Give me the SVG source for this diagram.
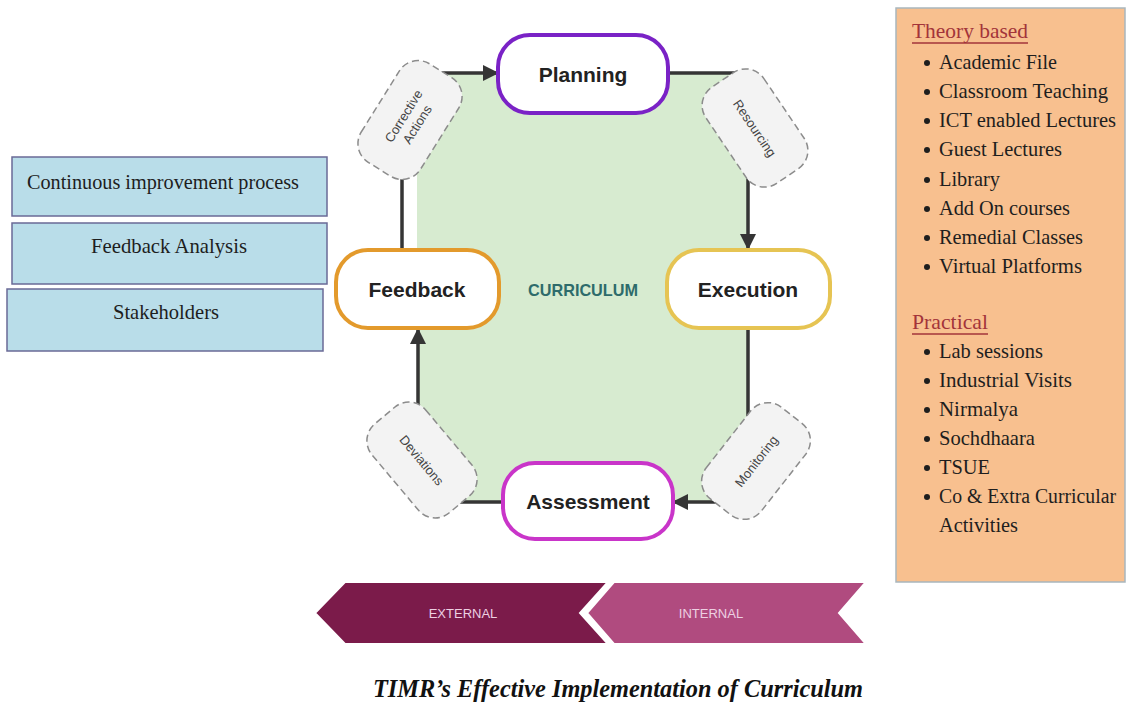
<svg xmlns="http://www.w3.org/2000/svg" width="1126" height="704" viewBox="0 0 1126 704">
  <defs>
    <marker id="arrow" viewBox="0 0 16 16" refX="15" refY="8" markerWidth="16" markerHeight="16" markerUnits="userSpaceOnUse" orient="auto">
      <path d="M0,0 L16,8 L0,16 z" fill="#353535"/>
    </marker>
    <style>
      .step { fill: #ffffff; stroke-width: 4; }
      .step-text { font-family: "Liberation Sans", Arial, sans-serif; font-weight: bold; font-size: 21px; fill: #222222; text-anchor: middle; }
      .tag { fill: #f3f3f3; stroke: #8c8c8c; stroke-width: 1.5; stroke-dasharray: 7 4; }
      .tag-text { font-family: "Liberation Sans", Arial, sans-serif; font-size: 13px; fill: #444444; text-anchor: middle; }
      .link { fill: none; stroke: #353535; stroke-width: 3.5; }
      .side-box { fill: #b9dde9; stroke: #6a6a96; stroke-width: 1.5; }
      .serif { font-family: "Liberation Serif", "Times New Roman", serif; font-size: 22px; fill: #1e1e1e; }
      .serif.long { font-size: 20px; }
      .head { font-family: "Liberation Serif", "Times New Roman", serif; font-size: 22px; fill: #a3343a; }
      .band-text { font-family: "Liberation Sans", Arial, sans-serif; font-size: 13px; fill: #edd0e2; text-anchor: middle; }
    </style>
  </defs>

  <rect width="1126" height="704" fill="#ffffff"/>

  <!-- curriculum field -->
  <g id="curriculum">
    <rect x="417" y="73" width="331" height="429" fill="#d7ebd0"/>
    <text x="583" y="296" font-family="'Liberation Sans', Arial, sans-serif" font-weight="bold" font-size="17" fill="#2e6b6b" text-anchor="middle" textLength="110" lengthAdjust="spacingAndGlyphs">CURRICULUM</text>
  </g>

  <!-- connectors of the cycle -->
  <g id="connectors">
    <line class="link" x1="440" y1="73" x2="498" y2="73" marker-end="url(#arrow)"/>
    <line class="link" x1="668" y1="73" x2="735" y2="73"/>
    <line class="link" x1="748" y1="170" x2="748" y2="249" marker-end="url(#arrow)"/>
    <line class="link" x1="748" y1="329" x2="748" y2="425"/>
    <line class="link" x1="725" y1="502" x2="673" y2="502" marker-end="url(#arrow)"/>
    <line class="link" x1="503" y1="502" x2="455" y2="502"/>
    <line class="link" x1="418" y1="410" x2="418" y2="329" marker-end="url(#arrow)"/>
    <line class="link" x1="402" y1="249" x2="402" y2="170"/>
  </g>

  <!-- dashed labels on the connectors -->
  <g id="tag-corrective" transform="translate(410,120) rotate(-58)">
    <rect class="tag" x="-58" y="-35" width="116" height="70" rx="22"/>
    <text class="tag-text" x="0" y="-3">Corrective</text>
    <text class="tag-text" x="0" y="13">Actions</text>
  </g>
  <g id="tag-resourcing" transform="translate(755,128) rotate(56)">
    <rect class="tag" x="-58" y="-35" width="116" height="70" rx="22"/>
    <text class="tag-text" x="0" y="5">Resourcing</text>
  </g>
  <g id="tag-monitoring" transform="translate(756,461) rotate(-52)">
    <rect class="tag" x="-58" y="-35" width="116" height="70" rx="22"/>
    <text class="tag-text" x="0" y="5">Monitoring</text>
  </g>
  <g id="tag-deviations" transform="translate(422,460) rotate(50)">
    <rect class="tag" x="-58" y="-35" width="116" height="70" rx="22"/>
    <text class="tag-text" x="0" y="5">Deviations</text>
  </g>

  <!-- cycle steps -->
  <g id="planning">
    <rect class="step" x="498" y="35" width="170" height="78" rx="32" stroke="#7a22c6"/>
    <text class="step-text" x="583" y="82">Planning</text>
  </g>
  <g id="execution">
    <rect class="step" x="667" y="250" width="163" height="78" rx="32" stroke="#e6c453"/>
    <text class="step-text" x="748" y="297">Execution</text>
  </g>
  <g id="assessment">
    <rect class="step" x="503" y="463" width="170" height="76" rx="32" stroke="#c935c9"/>
    <text class="step-text" x="588" y="509">Assessment</text>
  </g>
  <g id="feedback">
    <rect class="step" x="336" y="250" width="163" height="78" rx="32" stroke="#e39a2c"/>
    <text class="step-text" x="417" y="297">Feedback</text>
  </g>

  <!-- left stack -->
  <g id="continuous-improvement">
    <rect class="side-box" x="12" y="157" width="315" height="59"/>
    <text class="serif" x="27" y="189" textLength="272" lengthAdjust="spacingAndGlyphs">Continuous improvement process</text>
  </g>
  <g id="feedback-analysis">
    <rect class="side-box" x="12" y="223" width="315" height="61"/>
    <text class="serif" x="91" y="253" textLength="156" lengthAdjust="spacingAndGlyphs">Feedback Analysis</text>
  </g>
  <g id="stakeholders">
    <rect class="side-box" x="7" y="289" width="316" height="62"/>
    <text class="serif" x="113" y="319" textLength="106" lengthAdjust="spacingAndGlyphs">Stakeholders</text>
  </g>

  <!-- activities panel -->
  <g id="activities">
    <rect x="896" y="8" width="229" height="574" fill="#f8c08f" stroke="#a9b6bd" stroke-width="1.5"/>
    <text class="head" x="912" y="38" textLength="116" lengthAdjust="spacingAndGlyphs">Theory based</text>
    <line x1="912" y1="43" x2="1028" y2="43" stroke="#a3343a" stroke-width="1.5"/>
    <g fill="#1e1e1e">
      <circle cx="927" cy="63" r="3"/>
      <circle cx="927" cy="92" r="3"/>
      <circle cx="927" cy="121" r="3"/>
      <circle cx="927" cy="150" r="3"/>
      <circle cx="927" cy="180" r="3"/>
      <circle cx="927" cy="209" r="3"/>
      <circle cx="927" cy="238" r="3"/>
      <circle cx="927" cy="267" r="3"/>
      <circle cx="927" cy="352" r="3"/>
      <circle cx="927" cy="381" r="3"/>
      <circle cx="927" cy="410" r="3"/>
      <circle cx="927" cy="439" r="3"/>
      <circle cx="927" cy="468" r="3"/>
      <circle cx="927" cy="497" r="3"/>
    </g>
    <text class="serif" x="939" y="69" textLength="118" lengthAdjust="spacingAndGlyphs">Academic File</text>
    <text class="serif" x="939" y="98" textLength="169" lengthAdjust="spacingAndGlyphs">Classroom Teaching</text>
    <text class="serif long" x="939" y="127" textLength="177" lengthAdjust="spacingAndGlyphs">ICT enabled Lectures</text>
    <text class="serif" x="939" y="156" textLength="123" lengthAdjust="spacingAndGlyphs">Guest Lectures</text>
    <text class="serif" x="939" y="186" textLength="61" lengthAdjust="spacingAndGlyphs">Library</text>
    <text class="serif" x="939" y="215" textLength="131" lengthAdjust="spacingAndGlyphs">Add On courses</text>
    <text class="serif" x="939" y="244" textLength="144" lengthAdjust="spacingAndGlyphs">Remedial Classes</text>
    <text class="serif" x="939" y="273" textLength="143" lengthAdjust="spacingAndGlyphs">Virtual Platforms</text>

    <text class="head" x="912" y="329" textLength="76" lengthAdjust="spacingAndGlyphs">Practical</text>
    <line x1="912" y1="334" x2="988" y2="334" stroke="#a3343a" stroke-width="1.5"/>
    <text class="serif" x="939" y="358" textLength="104" lengthAdjust="spacingAndGlyphs">Lab sessions</text>
    <text class="serif" x="939" y="387" textLength="133" lengthAdjust="spacingAndGlyphs">Industrial Visits</text>
    <text class="serif" x="939" y="416" textLength="79" lengthAdjust="spacingAndGlyphs">Nirmalya</text>
    <text class="serif" x="939" y="445" textLength="96" lengthAdjust="spacingAndGlyphs">Sochdhaara</text>
    <text class="serif" x="939" y="474" textLength="51" lengthAdjust="spacingAndGlyphs">TSUE</text>
    <text class="serif long" x="939" y="503" textLength="177" lengthAdjust="spacingAndGlyphs">Co &amp; Extra Curricular</text>
    <text class="serif" x="939" y="532" textLength="79" lengthAdjust="spacingAndGlyphs">Activities</text>
  </g>

  <!-- external / internal band -->
  <g id="external">
    <polygon points="315,613 345,582 608,582 580,613 608,644 345,644" fill="#7b1b4a" stroke="#ffffff" stroke-width="2"/>
    <text class="band-text" x="463" y="618">EXTERNAL</text>
  </g>
  <g id="internal">
    <polygon points="587,613 614,582 866,582 839,613 866,644 614,644" fill="#b04b7f" stroke="#ffffff" stroke-width="2"/>
    <text class="band-text" x="711" y="618">INTERNAL</text>
  </g>

  <text id="caption" x="373" y="697" font-family="'Liberation Serif', 'Times New Roman', serif" font-weight="bold" font-style="italic" font-size="26" fill="#111111" textLength="490" lengthAdjust="spacingAndGlyphs">TIMR’s Effective Implementation of Curriculum</text>
</svg>
